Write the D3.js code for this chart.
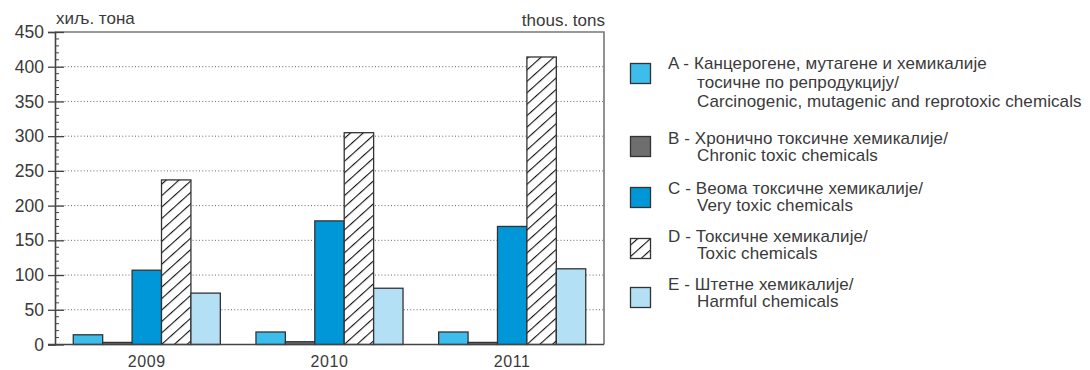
<!DOCTYPE html>
<html>
<head>
<meta charset="utf-8">
<script src="https://cdn.jsdelivr.net/npm/d3@7"></script>
<style>
  html, body { margin: 0; padding: 0; background: #fff; }
  svg { display: block; font-family: "Liberation Sans", Arial, sans-serif; }
</style>
</head>
<body>
<svg id="chart" width="1090" height="370"></svg>
<script>
// Hazardous chemicals by category, thousand tonnes
const years = ["2009", "2010", "2011"];
const seriesKeys = ["A", "B", "C", "D", "E"];
const valuesA = [14, 18, 18];
const valuesB = [3, 4, 3];
const valuesC = [107, 178, 170];
const valuesD = [237, 305, 414];
const valuesE = [74, 81, 109];
const yTicks = [0, 50, 100, 150, 200, 250, 300, 350, 400, 450];
const unitLeft = "хиљ. тона";
const unitRight = "thous. tons";
const legendLines = [
  ["A - Канцерогене, мутагене и хемикалије", "тосичне по репродукцију/", "Carcinogenic, mutagenic and reprotoxic chemicals"],
  ["B - Хронично токсичне хемикалије/", "Chronic toxic chemicals"],
  ["C - Веома токсичне хемикалије/", "Very toxic chemicals"],
  ["D - Токсичне хемикалије/", "Toxic chemicals"],
  ["E - Штетне хемикалије/", "Harmful chemicals"]
];

const seriesValues = { A: valuesA, B: valuesB, C: valuesC, D: valuesD, E: valuesE };
const fills = { A: "#3dbdec", B: "#6e6e6e", C: "#0097d8", D: "url(#hatch)", E: "#b4e0f6" };
const textColor = "#3a3a3a";

const svg = d3.select("#chart");

// diagonal hatch for category D
const defs = svg.append("defs");
const pat = defs.append("pattern")
  .attr("id", "hatch")
  .attr("patternUnits", "userSpaceOnUse")
  .attr("width", 8.5).attr("height", 8.5)
  .attr("patternTransform", "rotate(48)");
pat.append("rect").attr("width", 8.5).attr("height", 8.5).attr("fill", "#fff");
pat.append("line").attr("x1", 0).attr("y1", 0).attr("x2", 0).attr("y2", 8.5)
  .attr("stroke", "#111").attr("stroke-width", 2.2);

const plot = { left: 55, right: 604, top: 32, bottom: 344.5 };

const x0 = d3.scaleBand().domain(years)
  .range([plot.left, plot.right]).paddingInner(0.195).paddingOuter(0.1);
const x1 = d3.scaleBand().domain(seriesKeys).range([0, x0.bandwidth()]).padding(0);
const y = d3.scaleLinear().domain([0, 450]).range([plot.bottom, plot.top]);

// dotted gridlines
svg.append("g").selectAll("line")
  .data(yTicks.filter(t => t > 0 && t < 450))
  .join("line")
  .attr("x1", plot.left).attr("x2", plot.right)
  .attr("y1", d => y(d)).attr("y2", d => y(d))
  .attr("stroke", "#666").attr("stroke-width", 1)
  .attr("stroke-dasharray", "1,2.2");

// bars
const rows = years.map((yr, i) => ({ year: yr, items: seriesKeys.map(k => ({ key: k, value: seriesValues[k][i] })) }));
svg.append("g").selectAll("g")
  .data(rows)
  .join("g")
  .attr("transform", d => `translate(${x0(d.year)},0)`)
  .selectAll("rect")
  .data(d => d.items)
  .join("rect")
  .attr("x", d => x1(d.key))
  .attr("width", x1.bandwidth())
  .attr("y", d => y(d.value))
  .attr("height", d => y(0) - y(d.value))
  .attr("fill", d => fills[d.key])
  .attr("stroke", "#333")
  .attr("stroke-width", 1.3);

// frame top and right
svg.append("path")
  .attr("d", `M${plot.left},${plot.top}H${plot.right}V${plot.bottom}`)
  .attr("fill", "none").attr("stroke", "#777").attr("stroke-width", 1.6);

// y axis with minor ticks every 10
const yAxis = d3.axisLeft(y).tickValues(yTicks).tickSize(7).tickPadding(4).tickFormat(d3.format("d"));
const gy = svg.append("g").attr("transform", `translate(${plot.left},0)`).call(yAxis);
gy.select(".domain").attr("stroke", "#444").attr("stroke-width", 1.6);
gy.selectAll(".tick line").attr("stroke", "#444").attr("stroke-width", 1.3).attr("x2", 9).attr("x1", -7);
gy.selectAll(".tick text").attr("fill", textColor).style("font-size", "17.5px");
const minor = d3.range(0, 451, 10).filter(v => v % 50 !== 0);
gy.append("g").selectAll("line").data(minor).join("line")
  .attr("x1", 0).attr("x2", 4)
  .attr("y1", d => y(d)).attr("y2", d => y(d))
  .attr("stroke", "#444").attr("stroke-width", 1);

// x axis
const xAxis = d3.axisBottom(x0).tickSize(0).tickPadding(11);
const gx = svg.append("g").attr("transform", `translate(0,${plot.bottom})`).call(xAxis);
gx.select(".domain").attr("d", `M${plot.left - 7},0H${plot.right}`).attr("stroke", "#444").attr("stroke-width", 1.6);
gx.selectAll(".tick text").attr("fill", textColor).style("font-size", "16px").style("letter-spacing", "0.6px");

// units
svg.append("text").attr("x", plot.left + 1).attr("y", 24).attr("fill", textColor)
  .style("font-size", "17px").text(unitLeft);
svg.append("text").attr("x", plot.right + 1).attr("y", 26).attr("text-anchor", "end").attr("fill", textColor)
  .style("font-size", "17px").text(unitRight);

// legend
const swatchTops = [63, 136, 187, 238, 287];
const lineBaselines = [[69, 88, 107], [144, 161], [194, 211], [242, 259], [290, 307]];
const legend = svg.append("g");
seriesKeys.forEach((k, i) => {
  legend.append("rect")
    .attr("x", 630.5).attr("y", swatchTops[i] + 0.5)
    .attr("width", 20).attr("height", 20)
    .attr("fill", fills[k]).attr("stroke", "#333").attr("stroke-width", 1.3);
  legendLines[i].forEach((t, j) => {
    legend.append("text")
      .attr("x", j === 0 ? 668 : 697)
      .attr("y", lineBaselines[i][j])
      .attr("fill", textColor)
      .style("font-size", "17px")
      .style("letter-spacing", "0.1px")
      .text(t);
  });
});
</script>
</body>
</html>
